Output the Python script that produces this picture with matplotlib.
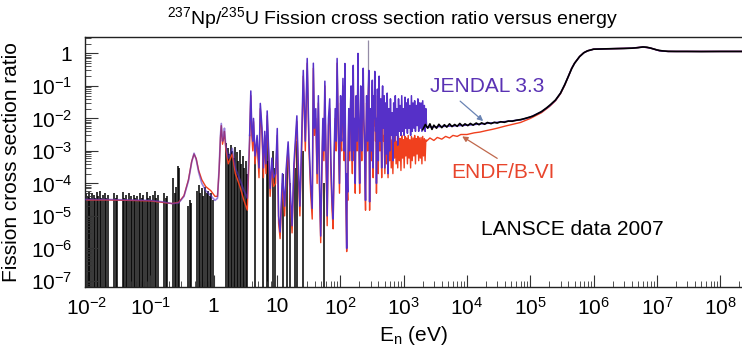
import math
import matplotlib
matplotlib.use("Agg")
import matplotlib.pyplot as plt
from matplotlib.ticker import LogLocator, FuncFormatter, NullFormatter

plt.rcParams['font.family'] = ['Liberation Sans', 'DejaVu Sans']
plt.rcParams['mathtext.fontset'] = 'custom'
plt.rcParams['mathtext.rm'] = 'Liberation Sans'
plt.rcParams['mathtext.it'] = 'Liberation Sans:italic'

# ---------------- data ----------------
# thermal / low resonances
low_E = [0.0093, 0.02, 0.05, 0.1, 0.16, 0.22, 0.28, 0.34, 0.40, 0.45, 0.49, 0.53, 0.58, 0.65,
         0.75, 0.9, 1.05, 1.15, 1.22, 1.28, 1.32, 1.38, 1.44, 1.48, 1.55, 1.7, 1.97, 2.2, 2.6, 3.0, 3.4]
jendl_R_low = [3.2e-5, 3.2e-5, 3.1e-5, 3.0e-5, 2.7e-5, 2.4e-5, 2.5e-5, 4.0e-5, 1.2e-4, 4.5e-4, 8.5e-4,
               5.5e-4, 2.2e-4, 1.0e-4, 6.0e-5, 4.2e-5, 3.0e-5, 3.5e-5, 3.0e-4, 3.0e-3, 7.0e-3, 2.0e-3,
               3.0e-3, 5.0e-3, 1.5e-3, 6.0e-4, 1.2e-3, 3.0e-4, 1.3e-4, 6.0e-5, 3.5e-5]
endf_R_low = [3.1e-5, 3.1e-5, 3.0e-5, 2.9e-5, 2.6e-5, 2.4e-5, 2.6e-5, 4.2e-5, 1.3e-4, 4.8e-4, 8.0e-4,
              5.8e-4, 2.5e-4, 1.3e-4, 8.0e-5, 6.0e-5, 4.0e-5, 4.0e-5, 2.5e-4, 2.5e-3, 6.0e-3, 1.6e-3,
              2.5e-3, 4.0e-3, 1.2e-3, 4.0e-4, 8.0e-4, 2.0e-4, 8.0e-5, 3.0e-5, 1.5e-5]

# resolved resonances 3.7 - 97 eV
res_E = [3.7, 3.86, 4.0, 4.15, 4.26, 4.5, 4.85, 5.2, 5.45, 5.8, 6.1, 6.4, 6.7, 7.0, 7.4, 7.8, 8.3, 8.8,
         9.5, 10.1, 10.6, 11.2, 12.2, 13.2, 14.0, 15.0, 16.0, 17.3, 18.5, 20.6, 21.5, 23.0, 24.5, 26.0,
         28.0, 30.0, 32.0, 34.0, 36.0, 37.5, 39.0, 41.0, 43.0, 45.0, 47.0, 49.0, 51.0, 53.0, 55.0, 57.0,
         59.0, 62.0, 65.0, 68.0, 71.0, 74.0, 77.0, 80.0, 83.0, 86.0, 89.0, 93.0, 97.0]
jendl_R_res = [3e-3, 0.07, 5e-3, 2e-3, 0.01, 7e-4, 3e-3, 3e-4, 0.029, 5e-3,
               3e-4, 4e-3, 4e-4, 0.017, 1e-3, 7e-5, 6e-4, 1.5e-4, 2e-4, 4.9e-3,
               1e-5, 3.2e-6, 2e-4, 2e-5, 3e-4, 1.9e-3, 1e-4, 5e-6, 4e-4, 0.012,
               6e-4, 2e-5, 2e-3, 0.3, 2e-3, 0.7, 2e-3, 1e-4, 1.7e-5, 0.5,
               5e-3, 0.02, 2e-4, 0.05, 1e-4, 2.4e-6, 3e-4, 0.01, 1e-3, 0.14,
               2e-3, 1e-5, 0.01, 0.04, 5e-4, 3e-5, 8e-6, 1e-3, 0.02, 2e-3,
               0.7, 5e-3, 1e-4]
endf_R_res = [2e-3, 0.05, 3e-3, 1e-3, 8e-3, 4e-4, 2e-3, 1.5e-4, 0.02, 3e-3,
              1.5e-4, 3e-3, 2e-4, 0.012, 6e-4, 4e-5, 4e-4, 8e-5, 1e-4, 3e-3,
              6e-6, 2e-6, 1e-4, 1e-5, 2e-4, 1.2e-3, 5e-5, 3e-6, 2e-4, 8e-3,
              3e-4, 1e-5, 1e-3, 0.2, 1e-3, 0.5, 1e-3, 5e-5, 8e-6, 0.35,
              3e-3, 0.01, 1e-4, 0.03, 5e-5, 1.5e-6, 1.5e-4, 6e-3, 5e-4, 0.1,
              1e-3, 5e-6, 6e-3, 0.02, 2e-4, 1.5e-5, 4e-6, 5e-4, 0.01, 1e-3,
              0.5, 3e-3, 5e-5]

# resolved resonances 101 - 480 eV
res2_E = [101, 103, 105, 108, 110, 113, 115, 118, 120, 122, 126, 128, 131, 134, 136, 139, 141, 145,
          148, 152, 155, 158, 160, 163, 166, 169, 172, 175, 178, 181, 184, 187, 190, 193, 196, 199,
          202, 206, 210, 214, 218, 224, 230, 235, 240, 245, 250, 255, 260, 265, 270, 276, 282, 286,
          290, 295, 300, 305, 310, 315, 320, 325, 330, 335, 340, 345, 350, 355, 360, 366, 372, 378,
          385, 391, 398, 404, 410, 416, 422, 429, 436, 443, 450, 457, 465, 472, 480]
jendl_R_res2 = [0.05, 3e-3, 2e-3, 0.03, 0.17, 4e-3, 1e-3, 0.49, 8e-3, 1e-4,
                1e-6, 2e-4, 5.4e-5, 4e-3, 0.02, 3e-3, 1e-3, 0.03, 0.1, 2e-3,
                5e-4, 0.02, 0.43, 6e-3, 1e-3, 0.01, 1e-4, 5e-3, 0.05, 8e-3,
                2e-3, 0.03, 1.0, 0.02, 5e-3, 8e-4, 1e-4, 0.01, 0.1, 4e-3,
                1e-3, 0.04, 0.35, 0.01, 3e-3, 2e-4, 3e-5, 4e-3, 0.05, 6e-3,
                2e-3, 0.06, 0.3, 5e-3, 2.7e-5, 2e-3, 0.02, 4e-3, 1e-3, 0.03,
                0.15, 4e-3, 3e-4, 8e-3, 0.05, 0.01, 0.28, 0.02, 4e-3, 0.01,
                1e-4, 3e-3, 0.08, 0.01, 5e-4, 0.03, 0.2, 0.01, 2e-3, 0.02,
                0.04, 3e-3, 3e-4, 0.02, 0.1, 6e-3, 5e-3]
endf_R_res2 = [0.03, 1.5e-3, 1e-3, 0.02, 0.1, 2e-3, 5e-4, 0.3, 4e-3, 5e-5,
               8e-7, 1e-4, 3e-5, 2e-3, 0.01, 1.5e-3, 5e-4, 0.02, 0.06, 1e-3,
               2e-4, 0.01, 0.3, 3e-3, 5e-4, 6e-3, 5e-5, 3e-3, 0.03, 4e-3,
               1e-3, 0.02, 0.6, 0.01, 2.5e-3, 4e-4, 5e-5, 6e-3, 0.06, 2e-3,
               5e-4, 0.025, 0.2, 6e-3, 1.5e-3, 1e-4, 1.5e-5, 2e-3, 0.03, 3e-3,
               1e-3, 0.04, 0.2, 2.5e-3, 1.5e-5, 1e-3, 0.01, 2e-3, 5e-4, 0.02,
               0.08, 2e-3, 1.5e-4, 4e-3, 0.03, 6e-3, 0.15, 0.01, 2e-3, 6e-3,
               5e-5, 1.5e-3, 0.05, 5e-3, 2e-4, 0.015, 0.1, 5e-3, 1e-3, 0.01,
               0.02, 1.5e-3, 1.5e-4, 0.01, 0.05, 3e-3, 2e-3]

# dense band 0.49 - 2.24 keV
band_E = [490, 505, 520, 535, 550, 567, 584, 601, 619, 637, 656, 676, 696, 717, 738, 760, 783, 806, 830,
          855, 880, 906, 933, 961, 990, 1019, 1050, 1081, 1113, 1146, 1180, 1215, 1251, 1288, 1327,
          1366, 1407, 1449, 1492, 1536, 1582, 1629, 1677, 1727, 1778, 1831, 1886, 1942, 2000, 2060,
          2120, 2180, 2240]
jendl_R_band = [0.05, 3e-4, 0.03, 8e-4, 0.06, 2e-4, 0.02, 1e-3, 0.04, 3e-3,
                0.015, 5e-4, 0.03, 2e-3, 0.05, 3e-3, 0.02, 1.5e-3, 0.04, 4e-3,
                0.025, 3e-3, 0.05, 4e-3, 0.02, 3e-3, 0.045, 5e-3, 0.03, 3.5e-3,
                0.04, 5e-3, 0.025, 3e-3, 0.05, 4e-3, 0.03, 5e-3, 0.035, 4e-3,
                0.025, 6e-3, 0.04, 4e-3, 0.03, 5e-3, 0.03, 4e-3, 0.035, 5e-3,
                0.025, 4e-3, 0.02]
endf_R_band = [3e-3, 2e-4, 2.5e-3, 4e-4, 3e-3, 1.5e-4, 2e-3, 5e-4, 2.8e-3, 3e-4,
               2.2e-3, 2e-4, 2.5e-3, 6e-4, 3e-3, 4e-4, 2e-3, 3e-4, 2.8e-3, 5e-4,
               2.4e-3, 2.5e-4, 3e-3, 6e-4, 2.2e-3, 3e-4, 2.8e-3, 7e-4, 2.5e-3, 4e-4,
               3e-3, 6e-4, 2.2e-3, 3e-4, 2.8e-3, 5e-4, 2.5e-3, 7e-4, 3e-3, 4e-4,
               2.4e-3, 8e-4, 2.8e-3, 5e-4, 2.5e-3, 6e-4, 2.6e-3, 4e-4, 2.8e-3, 7e-4,
               2.4e-3, 5e-4, 2.2e-3]

# smooth (unresolved + fast) region
jendl_E_fast = [2300, 3000, 5000, 1e4, 2e4, 4e4, 7e4, 1e5, 1.5e5, 2e5, 2.5e5, 3e5, 3.5e5, 4e5, 4.5e5,
                5e5, 6e5, 7e5, 8e5, 1e6, 2e6, 4e6, 6e6, 8e6, 1.1e7, 1.5e7, 2e7, 5e7, 2.5e8]
jendl_R_fast = [5.4e-3, 5.5e-3, 5.8e-3, 6.2e-3, 7e-3, 8e-3, 9e-3, 0.011, 0.016, 0.024, 0.036, 0.06,
                0.11, 0.2, 0.35, 0.5, 0.8, 1.05, 1.2, 1.35, 1.4, 1.45, 1.58, 1.45, 1.2, 1.15, 1.15,
                1.15, 1.15]
endf_E_fast = [2300, 2600, 3000, 3400, 4000, 4600, 5300, 6000, 7000, 8000, 1e4, 1.3e4, 1.6e4, 2e4,
               2.5e4, 3e4, 4e4, 7e4, 1e5, 1.5e5, 2e5, 2.5e5, 3e5, 3.5e5, 4e5, 4.5e5, 5e5, 6e5, 7e5,
               8e5, 1e6, 2e6, 4e6, 6e6, 8e6, 1.1e7, 1.5e7, 2e7, 5e7, 2.5e8]
endf_R_fast = [2.0e-3, 2.5e-3, 2.1e-3, 2.6e-3, 2.3e-3, 2.8e-3, 2.5e-3, 3.0e-3, 2.8e-3, 3.2e-3,
               3.2e-3, 3.6e-3, 3.8e-3, 4.2e-3, 4.6e-3, 5.0e-3, 5.8e-3, 7.5e-3, 0.010, 0.015, 0.023,
               0.035, 0.058, 0.105, 0.2, 0.35, 0.5, 0.8, 1.05, 1.2, 1.35, 1.4, 1.45, 1.58, 1.45, 1.2,
               1.15, 1.15, 1.15, 1.15]

# LANSCE 2007 measurement: low-energy spikes (E, top of spike)
lansce_spike_E = [0.0096, 0.0102, 0.0108, 0.0112, 0.0120, 0.0127, 0.0134, 0.0144, 0.0149, 0.0160,
                  0.0169, 0.0179, 0.0193, 0.0200, 0.0215, 0.0267, 0.0282, 0.0298, 0.0371, 0.0391,
                  0.0413, 0.0428, 0.0461, 0.0487, 0.0514, 0.0553, 0.0574, 0.0617, 0.0652, 0.0688,
                  0.0740, 0.0767, 0.0825, 0.0871, 0.0920, 0.0989, 0.1026, 0.1104, 0.1166, 0.1231,
                  0.1324, 0.1646, 0.1738, 0.1836, 0.2284, 0.2412, 0.2547, 0.2690, 0.2841, 0.3942,
                  0.4163, 0.4397, 0.5469, 0.5775, 0.6099, 0.6440, 0.6801, 0.7316, 0.7726, 0.8159,
                  0.8616, 0.9099, 0.9609, 1.571, 1.659, 1.752, 1.850, 1.953, 2.063, 2.178, 2.300,
                  2.429, 2.565, 2.709, 2.860, 3.020, 3.189, 3.368, 4.51, 6.03, 6.98, 7.23, 8.67,
                  9.33, 12.5, 14.4, 16.1, 19.3, 20.8, 25.8, 55.5]
lansce_spike_R = [5e-5, 4e-5, 5.5e-5, 3.5e-5, 5e-5, 4.5e-5, 3.5e-5, 5.5e-5, 4e-5, 6e-5,
                  3.5e-5, 4.5e-5, 5e-5, 3.5e-5, 4.5e-5, 5e-5, 3.5e-5, 4.5e-5, 5.5e-5, 3.5e-5,
                  4.5e-5, 3e-5, 5e-5, 4e-5, 3e-5, 4.5e-5, 3.5e-5, 4e-5, 3e-5, 5e-5,
                  3.5e-5, 4.5e-5, 3e-5, 5.5e-5, 3.5e-5, 4e-5, 3e-5, 4.5e-5, 6e-5, 3.5e-5,
                  4.5e-5, 5e-5, 3.5e-5, 4e-5, 1.5e-4, 5e-5, 8e-5, 3.5e-4, 3e-4, 2e-5,
                  3e-5, 2.5e-5, 6e-5, 9e-5, 5e-5, 7e-5, 4e-5, 8e-5, 5e-5, 6e-5,
                  4e-5, 5e-5, 3e-5, 1.7e-3, 1.2e-3, 8e-4, 1.5e-3, 1.0e-3, 6e-4, 1.3e-3, 9e-4,
                  5e-4, 1.1e-3, 4e-4, 7e-4, 3e-4, 5e-4, 2e-4, 1.5e-3, 1e-3, 3e-3, 5e-4, 1e-3,
                  3e-4, 2e-4, 5e-4, 1e-4, 3e-4, 2e-3, 1e-3, 1e-4]
lansce_floor = 1e-9
lansce_tall_E = [276]
lansce_tall_lo = [3e-3]
lansce_tall_hi = [2.6]

# LANSCE smooth region
lansce_E = [2000, 2200, 2400, 2600, 2800, 3000, 3300, 3600, 4000, 4400, 4800, 5300, 5800, 6400, 7000,
            7700, 8500, 9300, 1.03e4, 1.13e4, 1.25e4, 1.4e4, 1.55e4, 1.7e4, 1.9e4, 2.1e4, 2.4e4,
            2.7e4, 3e4, 3.4e4, 3.9e4, 4.5e4, 5.2e4, 6e4, 7e4, 8e4, 9.5e4, 1.1e5, 1.3e5, 1.5e5,
            1.8e5, 2.1e5, 2.5e5, 3e5, 3.5e5, 4e5, 4.5e5, 5e5, 6e5, 7e5, 8e5, 1e6, 1.5e6, 2e6, 3e6,
            4e6, 5e6, 6e6, 7e6, 8e6, 1e7, 1.2e7, 1.5e7, 2e7, 3e7, 5e7, 1e8, 2.5e8]
lansce_R = [4.5e-3, 6.5e-3, 5e-3, 6.8e-3, 4.6e-3, 6.2e-3, 5e-3, 6.6e-3, 5.2e-3, 6.4e-3,
            5.4e-3, 6.8e-3, 5.6e-3, 6.5e-3, 5.7e-3, 7e-3, 5.8e-3, 6.8e-3, 6e-3, 7e-3,
            6.2e-3, 7.2e-3, 6.4e-3, 7.3e-3, 6.6e-3, 7.5e-3, 6.9e-3, 7.6e-3, 7.2e-3, 7.9e-3,
            7.6e-3, 8.3e-3, 8.2e-3, 8.8e-3, 9.2e-3, 9.8e-3, 0.0108, 0.0118, 0.014, 0.0162,
            0.021, 0.027, 0.037, 0.06, 0.11, 0.2, 0.34, 0.5, 0.8, 1.05,
            1.2, 1.35, 1.38, 1.4, 1.42, 1.45, 1.5, 1.58, 1.55, 1.45,
            1.28, 1.2, 1.16, 1.15, 1.15, 1.14, 1.15, 1.15]

x_ticks = [1e-2, 1e-1, 1, 10, 1e2, 1e3, 1e4, 1e5, 1e6, 1e7, 1e8]
y_ticks = [1e-7, 1e-6, 1e-5, 1e-4, 1e-3, 1e-2, 1e-1, 1]

# ---------------- figure ----------------
W, H = 742, 353
fig = plt.figure(figsize=(W / 100, H / 100), dpi=100)
ax = fig.add_axes([85 / W, 1 - 287 / H, (742 - 85) / W, 250 / H])
ax.set_xscale('log')
ax.set_yscale('log')

c_jendl = '#5630c8'
c_endf = '#f0401e'

jendl_E_hi = res_E + res2_E + band_E + jendl_E_fast
jendl_R_hi = jendl_R_res + jendl_R_res2 + jendl_R_band + jendl_R_fast
endf_E = low_E + res_E + res2_E + band_E + endf_E_fast
endf_R = endf_R_low + endf_R_res + endf_R_res2 + endf_R_band + endf_R_fast

ax.vlines(lansce_spike_E, lansce_floor, lansce_spike_R, color='black', lw=1.3, alpha=0.85, zorder=1)
ax.vlines(lansce_tall_E, lansce_tall_lo, lansce_tall_hi, color='#7a7090', lw=0.9, alpha=0.8, zorder=1)
ax.plot(endf_E, endf_R, color=c_endf, lw=1.0, zorder=2)
# thermal part: JENDL and ENDF overlap (purple over red)
ax.plot(low_E + res_E[:1], jendl_R_low + jendl_R_res[:1], color=c_jendl, lw=1.2, alpha=0.6, zorder=3)
ax.plot(jendl_E_hi, jendl_R_hi, color=c_jendl, lw=1.1, alpha=1.0, zorder=3)
ax.plot(lansce_E, lansce_R, color='black', lw=1.2, zorder=4)


def fmt(v, pos):
    e = int(round(math.log10(v)))
    if e == 0:
        return '1'
    if e == 1:
        return '10'
    return r'$10^{%d}$' % e


ax.xaxis.set_minor_locator(LogLocator(base=10, subs=range(2, 10), numticks=20))
ax.yaxis.set_minor_locator(LogLocator(base=10, subs=range(2, 10), numticks=20))
ax.set_xticks(x_ticks)
ax.set_yticks(y_ticks)
ax.xaxis.set_major_formatter(FuncFormatter(fmt))
ax.yaxis.set_major_formatter(FuncFormatter(fmt))
ax.xaxis.set_minor_formatter(NullFormatter())
ax.yaxis.set_minor_formatter(NullFormatter())
ax.set_xlim(0.0093, 2.2e8)
ax.set_ylim(6.5e-8, 3.2)

ax.tick_params(which='both', direction='in', labelsize=15, colors='#333333', labelcolor='black')
ax.tick_params(which='major', length=9, width=0.8, pad=7)
ax.tick_params(which='minor', length=4.5, width=0.6)
ax.tick_params(axis='y', which='major', pad=9)
ax.spines['right'].set_visible(False)
for s in ['left', 'top', 'bottom']:
    ax.spines[s].set_linewidth(1.0)
    ax.spines[s].set_color('#222222')

ax.set_xlabel(r'E$_\mathregular{n}$ (eV)', fontsize=15, labelpad=4)
ax.set_ylabel('Fission cross section ratio', fontsize=15, labelpad=7)

fig.text(392 / W, 1 - 18 / H, r'$^{237}$Np/$^{235}$U Fission cross section ratio versus energy',
         fontsize=14, ha='center', va='center')

# annotations
ax.text(2.1e4, 0.093, 'JENDAL 3.3', color='#5a32b4', fontsize=15, ha='center', va='center')
ax.annotate('', xy=(1.8e4, 8.3e-3), xytext=(7.8e3, 0.034),
            arrowprops=dict(arrowstyle='-|>', color='#6a84b4', lw=0.9, mutation_scale=8,
                            shrinkA=0, shrinkB=0))
ax.text(3.7e4, 2.2e-4, 'ENDF/B-VI', color='#e8452c', fontsize=15, ha='center', va='center')
ax.annotate('', xy=(8.4e3, 2.8e-3), xytext=(3e4, 5.9e-4),
            arrowprops=dict(arrowstyle='-|>', color='#c0684c', lw=0.9, mutation_scale=8,
                            shrinkA=0, shrinkB=0))
ax.text(4.6e5, 3.8e-6, 'LANSCE data 2007', fontsize=15, ha='center', va='center', color='black')

fig.savefig('out.png', dpi=100)
